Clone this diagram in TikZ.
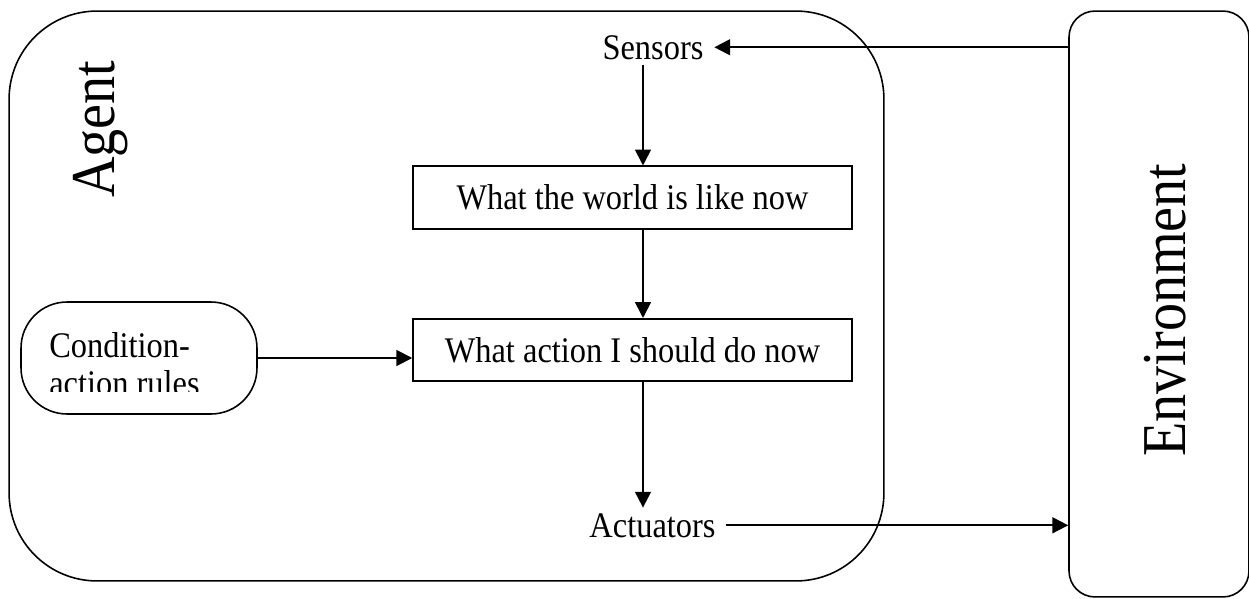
\documentclass[tikz,border=0pt]{standalone}
\usepackage{fontspec}
\setmainfont{Liberation Serif}[FakeStretch=0.9]
\usetikzlibrary{arrows.meta}

\begin{document}
\begin{tikzpicture}[x=0.02cm,y=-0.02cm,
    text_node/.style={font=\fontsize{20.5}{22}\selectfont,inner xsep=6pt,inner ysep=3pt},
    big_text/.style={font=\fontsize{35.5}{40}\selectfont,rotate=90,inner sep=0pt,anchor=base},
    state_box/.style={draw,line width=0.9pt,minimum width=8.78cm,minimum height=1.25cm,font=\fontsize{20.5}{22}\selectfont},
    flow/.style={line width=1.1pt,-{Triangle[length=9pt,width=9pt]}}]
    \useasboundingbox (0,0) rectangle (1249,599);
    % agent and environment
    \node[draw,line width=0.9pt,rounded corners=1.76cm,minimum width=17.5cm,minimum height=11.4cm] (agent) at (446.5,296) {};
    \node[draw,line width=0.9pt,rounded corners=0.52cm,minimum width=3.6cm,minimum height=11.72cm] (env) at (1159,304) {};
    \node[big_text] (agent_lbl) at (114,129) {Agent};
    \node[big_text] (env_lbl) at (1185,310) {Environment};
    % inside the agent
    \coordinate (mid) at (643,0);
    \node[text_node,anchor=base] (sensors) at (653,59) {Sensors};
    \node[state_box] (world) at (632.5,197.5) {What the world is like now};
    \node[state_box] (action) at (632.5,350) {What action I should do now};
    \node[text_node,anchor=base] (actuators) at (652.5,537) {Actuators};
    \node[draw,line width=0.9pt,rounded corners=0.92cm,minimum width=4.72cm,minimum height=2.24cm] (rules) at (139,358) {};
    \begin{scope}
        \clip (0,0) rectangle (1249,391);
        \node[font=\fontsize{20.5}{21.6}\selectfont,align=left,inner sep=0pt,anchor=north west] (rules_txt) at (49,332) {Condition-\\action rules};
    \end{scope}
    \draw[flow] (sensors.east -| env.west) -- (sensors.east);
    \draw[flow] (sensors.south -| mid) -- (world.north -| mid);
    \draw[flow] (world.south -| mid) -- (action.north -| mid);
    \draw[flow] (rules.east) -- (rules.east -| action.west);
    \draw[flow] (action.south -| mid) -- (actuators.north -| mid);
    \draw[flow] (actuators.east) -- (actuators.east -| env.west);
\end{tikzpicture}
\end{document}
